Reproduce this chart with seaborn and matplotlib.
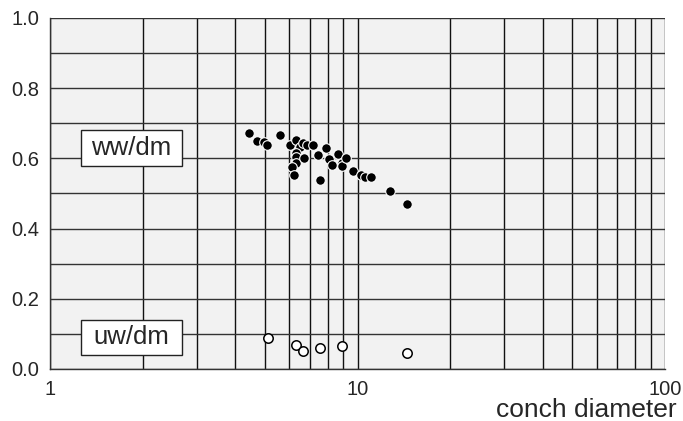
import matplotlib
matplotlib.use("Agg")
import matplotlib.pyplot as plt
import matplotlib.ticker as mticker
from matplotlib.patches import Rectangle
import seaborn as sns
import pandas as pd
import numpy as np

# ww/dm series (filled points)
ww_diam = [4.44, 4.72, 4.98, 5.09, 5.60, 6.03, 6.30, 6.50, 6.63, 6.86, 7.17,
           6.30, 6.30, 6.30, 6.11, 6.23, 6.72, 7.46, 7.88, 7.55, 8.08, 8.24,
           8.66, 8.88, 8.88, 9.18, 9.64, 10.3, 10.6, 11.1, 12.8, 14.5]
ww_val = [0.673, 0.650, 0.646, 0.637, 0.666, 0.637, 0.653, 0.633, 0.643, 0.637, 0.637,
          0.616, 0.605, 0.588, 0.575, 0.552, 0.600, 0.609, 0.629, 0.539, 0.597, 0.580,
          0.613, 0.588, 0.577, 0.600, 0.564, 0.552, 0.548, 0.548, 0.507, 0.470]

# uw/dm series (open points)
uw_diam = [5.10, 6.31, 6.63, 7.55, 8.89, 14.5]
uw_val = [0.088, 0.068, 0.051, 0.060, 0.065, 0.047]

series_labels = ["ww/dm", "uw/dm"]
x_ticklabels = ["1", "10", "100"]
x_label = "conch diameter"

sns.set_style("white")
plt.rcParams["font.family"] = ["Liberation Sans", "DejaVu Sans"]

fig = plt.figure(figsize=(6.83, 4.21), dpi=100)
ax = fig.add_axes([50 / 683, 1 - 369 / 421, 615 / 683, 351 / 421])
ax.set_facecolor("#f2f2f2")

df_ww = pd.DataFrame({"d": ww_diam, "v": ww_val})
df_uw = pd.DataFrame({"d": uw_diam, "v": uw_val})

sns.scatterplot(data=df_ww, x="d", y="v", ax=ax, s=48, color="black",
                edgecolor="white", linewidth=0.8, zorder=5, legend=False)
sns.scatterplot(data=df_uw, x="d", y="v", ax=ax, s=46, color="white",
                edgecolor="black", linewidth=1.1, zorder=5, legend=False)

ax.set_xscale("log")
ax.set_xlim(1, 100)
ax.set_ylim(0, 1.0)

ax.xaxis.set_major_locator(mticker.FixedLocator([1, 10, 100]))
ax.xaxis.set_major_formatter(mticker.FixedFormatter(x_ticklabels))
ax.xaxis.set_minor_locator(mticker.LogLocator(base=10, subs=np.arange(2, 10)))
ax.xaxis.set_minor_formatter(mticker.NullFormatter())
ax.yaxis.set_major_locator(mticker.MultipleLocator(0.2))
ax.yaxis.set_minor_locator(mticker.MultipleLocator(0.1))
ax.yaxis.set_major_formatter(mticker.FormatStrFormatter("%.1f"))

ax.grid(True, which="both", axis="x", color="#111111", linewidth=1.0)
ax.grid(True, which="both", axis="y", color="#333333", linewidth=1.0)
ax.set_axisbelow(True)

ax.tick_params(axis="both", which="major", direction="out", length=5,
               width=1, color="#333333", labelsize=14.5, pad=3)
ax.tick_params(axis="both", which="minor", length=0)
ax.tick_params(axis="x", which="major", pad=3)

for side in ["top", "right"]:
    ax.spines[side].set_visible(False)
for side in ["left", "bottom"]:
    ax.spines[side].set_color("#333333")
    ax.spines[side].set_linewidth(1.0)

ax.set_xlabel("")
ax.set_ylabel("")

# label boxes
box_x0 = (81 - 50) / 615
box_w = (182 - 81) / 615
for lab, ytop, ybot in [(series_labels[0], 0.681, 0.578), (series_labels[1], 0.140, 0.040)]:
    rect = Rectangle((box_x0, ybot), box_w, ytop - ybot,
                     transform=ax.get_yaxis_transform(), facecolor="white",
                     edgecolor="#222222", linewidth=1.0, zorder=4)
    ax.add_patch(rect)
    ax.text(box_x0 + box_w / 2, (ytop + ybot) / 2, lab,
            transform=ax.get_yaxis_transform(), ha="center", va="center",
            fontsize=18.5, zorder=6)

fig.text(677 / 683, 1 - 417 / 421, x_label, ha="right", va="baseline", fontsize=19)

fig.savefig("out.png", dpi=100, facecolor="white")
